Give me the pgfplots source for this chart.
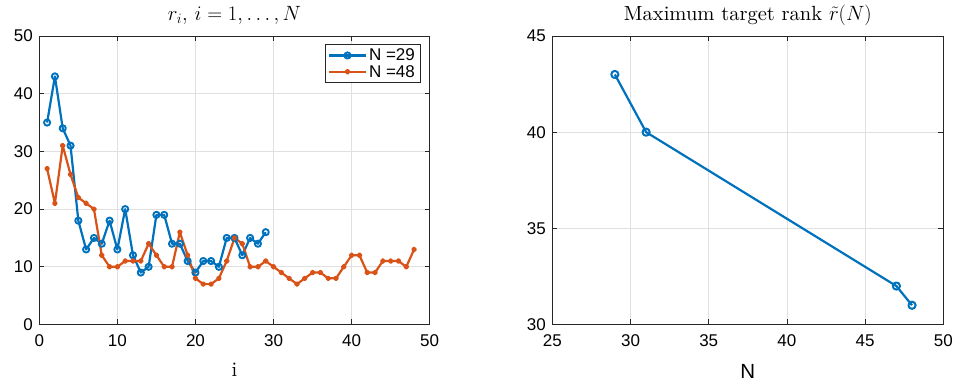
\documentclass[border=0pt]{standalone}
\usepackage{pgfplots}
\pgfplotsset{compat=1.18}
\usepackage{fontspec}
\setmainfont{lmroman10-regular.otf}[ItalicFont=lmroman10-italic.otf, BoldFont=lmroman10-bold.otf]
\newfontfamily\arial{Liberation Sans}
\definecolor{mblue}{rgb}{0,0.447,0.741}
\definecolor{morange}{rgb}{0.85,0.325,0.098}

% ranks r_i for the two problem sizes
\pgfplotstableread{
i r
1 35
2 43
3 34
4 31
5 18
6 13
7 15
8 14
9 18
10 13
11 20
12 12
13 9
14 10
15 19
16 19
17 14
18 14
19 11
20 9
21 11
22 11
23 10
24 15
25 15
26 12
27 15
28 14
29 16
}\rankA
\pgfplotstableread{
i r
1 27
2 21
3 31
4 26
5 22
6 21
7 20
8 12
9 10
10 10
11 11
12 11
13 11
14 14
15 12
16 10
17 10
18 16
19 12
20 8
21 7
22 7
23 8
24 11
25 15
26 14
27 10
28 10
29 11
30 10
31 9
32 8
33 7
34 8
35 9
36 9
37 8
38 8
39 10
40 12
41 12
42 9
43 9
44 11
45 11
46 11
47 10
48 13
}\rankB
% maximum target rank versus N
\pgfplotstableread{
N r
29 43
31 40
47 32
48 31
}\maxrank

\pgfplotsset{
  mstyle/.style={
    scale only axis,
    axis line style={draw=black!85, line width=0.6bp},
    tick style={draw=black!85, line width=0.6bp},
    tick align=inside, tick pos=both,
    major tick length=5bp,
    grid=major, major grid style={draw=black!12, line width=0.6bp},
    ticklabel style={font=\arial\fontsize{17bp}{20bp}\selectfont},
    /pgf/number format/assume math mode=true,
    xticklabel style={yshift=-7bp},
    yticklabel style={xshift=-3bp},
    title style={font=\fontsize{20.5bp}{24bp}\selectfont, at={(0.5,1)}, anchor=base, yshift=10bp},
    clip=false,
  },
}

\begin{document}
\begin{tikzpicture}
\path[use as bounding box] (0bp,0bp) rectangle (954bp,382bp);

\begin{axis}[mstyle,
  at={(39.3bp,57.5bp)}, anchor=south west,
  width=390.4bp, height=288.5bp,
  xmin=0, xmax=50, ymin=0, ymax=50,
  xtick={0,10,...,50}, ytick={0,10,...,50},
  title={$r_i,\, i=1,\ldots,N$},
  xlabel={i},
  xlabel style={font=\fontsize{20.5bp}{24bp}\selectfont, at={(0.5,0)}, anchor=base, yshift=-51.5bp},
  legend style={at={(1,1)}, anchor=north east, xshift=-9.5bp, yshift=-8.5bp,
    draw=black!85, line width=0.6bp, font=\arial\fontsize{17bp}{20bp}\selectfont,
    inner xsep=3bp, inner ysep=2bp, row sep=-1bp},
  legend cell align=left,
  legend image code/.code={\draw[#1, mark repeat=2, mark phase=2] plot coordinates {(0bp,0bp) (18.5bp,0bp) (37bp,0bp)};},
]
\addplot[mblue, line width=2.2bp, line join=round, mark=o, mark size=3.1bp, mark options={line width=1.9bp}] table[x=i, y=r] {\rankA};
\addlegendentry{N =29}
\addplot[morange, line width=2.2bp, line join=round, mark=*, mark size=1.8bp] table[x=i, y=r] {\rankB};
\addlegendentry{N =48}
\end{axis}

\begin{axis}[mstyle,
  at={(552.3bp,57.5bp)}, anchor=south west,
  width=391bp, height=288.5bp,
  xmin=25, xmax=50, ymin=30, ymax=45,
  xtick={25,30,...,50}, ytick={30,35,40,45},
  title={Maximum target rank $\tilde{r}(N)$},
  xlabel={N},
  xlabel style={font=\arial\fontsize{20.5bp}{24bp}\selectfont, at={(0.5,0)}, anchor=base, yshift=-53.8bp},
]
\addplot[mblue, line width=2.2bp, line join=round, mark=o, mark size=3.6bp, mark options={line width=2bp}] table[x=N, y=r] {\maxrank};
\end{axis}
\end{tikzpicture}
\end{document}
